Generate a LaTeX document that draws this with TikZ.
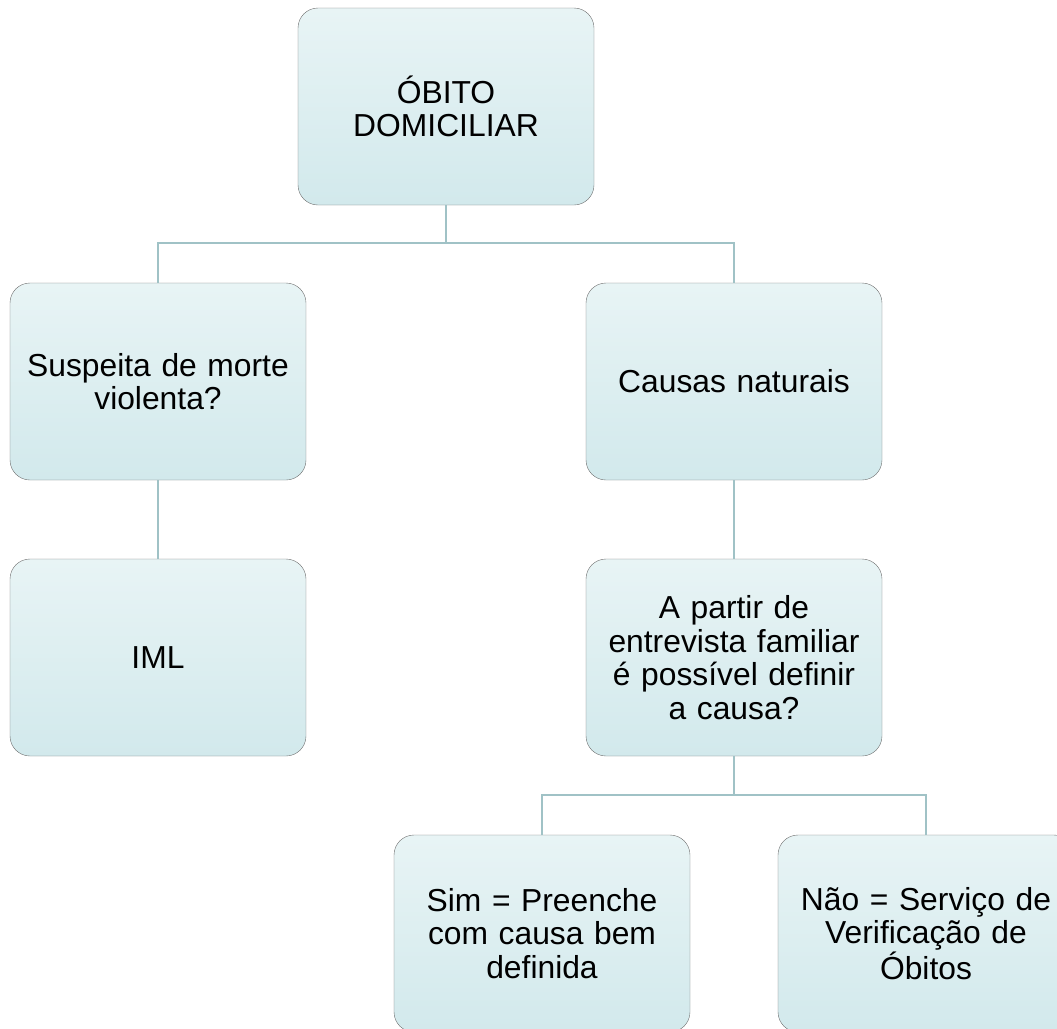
\documentclass[tikz,border=0pt]{standalone}
\usepackage{fontspec}
\setmainfont{Liberation Sans}
\usetikzlibrary{positioning}
\definecolor{boxtop}{HTML}{E8F4F5}
\definecolor{boxbot}{HTML}{D2E9EC}
\definecolor{rim}{HTML}{707070}
\definecolor{wire}{HTML}{A0C2C6}
\tikzset{
  box/.style={rectangle, rounded corners=20pt, draw=rim, thin, top color=boxtop, bottom color=boxbot,
    minimum width=296pt, minimum height=197pt, text width=290pt, align=center, inner sep=0pt,
    font=\fontsize{31.8}{33.5}\selectfont},
  tie/.style={draw=wire, line width=2pt},
}
\begin{document}
\begin{tikzpicture}[x=1pt, y=1pt]
  \useasboundingbox (0,0) rectangle (1057,-1028);
  \node[box] (obito) at (446,-106.5) {ÓBITO\\DOMICILIAR};
  \node[box] (susp) at (158,-381.5) {Suspeita de morte\\violenta?};
  \node[box] (nat) at (734,-381.5) {Causas naturais};
  \node[box] (iml) at (158,-657.5) {IML};
  \node[box] (quest) at (734,-657.5) {A partir de\\entrevista familiar\\é possível definir\\a causa?};
  \node[box] (sim) at (542,-933.5) {Sim = Preenche\\com causa bem\\definida};
  \node[box] (nao) at (926,-933.5) {Não = Serviço de\\Verificação de\\Óbitos};
  \coordinate (j1) at (446,-243);
  \coordinate (j2) at (734,-795);
  \draw[tie] (obito) -- (j1);
  \draw[tie] (j1) -| (susp);
  \draw[tie] (j1) -| (nat);
  \draw[tie] (susp) -- (iml);
  \draw[tie] (nat) -- (quest);
  \draw[tie] (quest) -- (j2);
  \draw[tie] (j2) -| (sim);
  \draw[tie] (j2) -| (nao);
\end{tikzpicture}
\end{document}
